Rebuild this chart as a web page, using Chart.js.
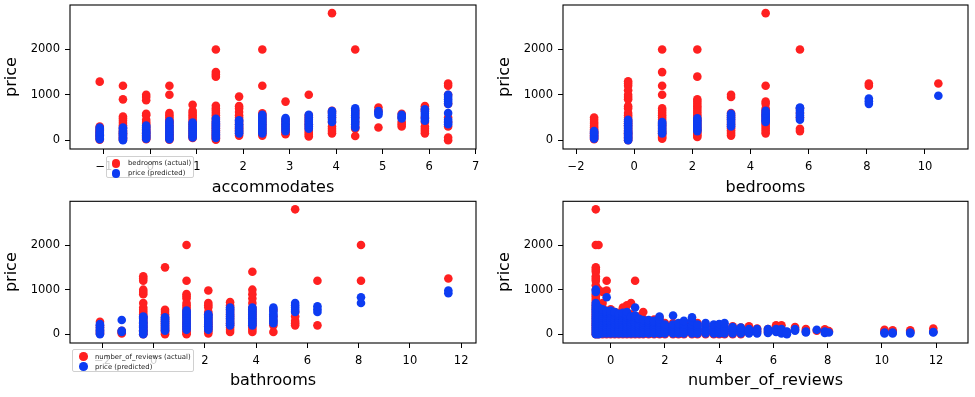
<!DOCTYPE html>
<html>
<head>
<meta charset="utf-8">
<script src="https://cdn.jsdelivr.net/npm/chart.js@4.4.1/dist/chart.umd.min.js"></script>
<style>
body { margin: 0; background: #fff; width: 975px; height: 397px; overflow: hidden; font-family: "DejaVu Sans", sans-serif; }
.panel { position: absolute; }
.panel canvas { display: block; }
.legend { position: absolute; background: rgba(255,255,255,0.8); border: 1px solid #d0d0d0; border-radius: 2px; box-sizing: border-box; }
.legend .dot { position: absolute; width: 8.6px; height: 8.6px; border-radius: 50%; }
.legend .lbl { position: absolute; font-size: 6.9px; line-height: 10px; color: #222; white-space: nowrap; }
</style>
</head>
<body>
<div class="panel" style="left:0;top:0"><canvas id="accChart" width="487" height="197"></canvas></div>
<div class="panel" style="left:487px;top:0"><canvas id="bedChart" width="488" height="197"></canvas></div>
<div class="panel" style="left:0;top:197px"><canvas id="bathChart" width="487" height="200"></canvas></div>
<div class="panel" style="left:487px;top:197px"><canvas id="revChart" width="488" height="200"></canvas></div>

<div class="legend" style="left:106px;top:156px;width:88px;height:22px">
  <div class="dot" style="left:4.7px;top:2px;background:#ff2020"></div>
  <div class="lbl" style="left:21px;top:1.3px">bedrooms (actual)</div>
  <div class="dot" style="left:4.7px;top:12px;background:#0d3cf2"></div>
  <div class="lbl" style="left:21px;top:11.3px">price (predicted)</div>
</div>
<div class="legend" style="left:72px;top:349px;width:122px;height:23px">
  <div class="dot" style="left:6px;top:2.4px;background:#ff2020"></div>
  <div class="lbl" style="left:22px;top:1.7px">number_of_reviews (actual)</div>
  <div class="dot" style="left:6px;top:12.4px;background:#0d3cf2"></div>
  <div class="lbl" style="left:22px;top:11.7px">price (predicted)</div>
</div>

<script>
const RED = '#ff2020';
const BLUE = '#0d3cf2';
const yTicks = [0, 1000, 2000];

// accommodates (standardised) columns
const accX = [-1.09, -0.59, -0.09, 0.41, 0.91, 1.41, 1.91, 2.41, 2.91, 3.41, 3.91, 4.41, 4.91, 5.41, 5.91, 6.41];
const accActual = [
  [10, 40, 70, 100, 130, 160, 190, 220, 260, 300, 1290],
  [10, 30, 60, 90, 120, 150, 180, 210, 250, 290, 330, 380, 430, 480, 520, 900, 1200],
  [20, 50, 80, 110, 140, 170, 200, 240, 280, 320, 360, 400, 450, 550, 580, 880, 950, 1000],
  [10, 40, 70, 100, 130, 170, 210, 250, 290, 330, 370, 410, 450, 500, 550, 600, 1000, 1200],
  [50, 80, 110, 150, 190, 230, 270, 310, 350, 400, 450, 500, 550, 600, 650, 780],
  [10, 40, 70, 100, 140, 180, 220, 260, 300, 350, 400, 450, 500, 550, 600, 650, 700, 760, 1400, 1450, 1500, 2000],
  [100, 140, 180, 220, 260, 300, 350, 400, 450, 500, 550, 620, 700, 750, 960],
  [100, 140, 180, 220, 260, 300, 350, 400, 450, 500, 550, 590, 1200, 2000],
  [130, 170, 210, 250, 300, 350, 400, 450, 850],
  [80, 120, 160, 200, 250, 300, 350, 400, 450, 500, 550, 1000],
  [150, 200, 250, 300, 400, 500, 600, 650, 2800],
  [90, 250, 300, 400, 500, 580, 650, 2000],
  [280, 650, 720],
  [300, 350, 400, 500, 580],
  [150, 200, 250, 300, 400, 500, 650, 700, 750],
  [0, 60, 300, 400, 500, 800, 1000, 1200, 1250]
];
const accPred = [
  [20, 50, 80, 110, 140, 170, 200, 240, 280],
  [0, 30, 60, 90, 120, 150, 180, 210, 250, 280],
  [30, 60, 90, 120, 150, 180, 210, 250, 290, 320],
  [20, 50, 90, 130, 170, 210, 250, 290, 330, 380, 420],
  [60, 100, 140, 180, 220, 260, 300, 350, 390],
  [50, 90, 130, 170, 210, 250, 290, 330, 370, 410, 470],
  [150, 190, 230, 270, 310, 350, 400, 440],
  [150, 190, 230, 270, 310, 350, 390, 430, 470, 510, 560],
  [200, 250, 300, 350, 400, 450, 490],
  [250, 300, 350, 400, 450, 500, 560],
  [400, 450, 500, 550, 600, 640],
  [280, 350, 400, 450, 500, 550, 600, 650, 700],
  [560, 600, 640],
  [480, 520, 560],
  [430, 480, 530, 580, 630, 680],
  [350, 400, 450, 600, 800, 850, 900, 950, 1000]
];

// bedrooms columns
const bedX = [-1.38, -0.21, 0.96, 2.17, 3.33, 4.52, 5.70, 8.07, 10.46];
const bedActual = [
  [20, 50, 80, 110, 140, 170, 200, 240, 280, 320, 360, 400, 450, 500],
  [0, 30, 60, 90, 120, 150, 180, 210, 250, 290, 330, 370, 410, 450, 500, 550, 600, 700, 750, 900, 950, 1000, 1100, 1200, 1250, 1300],
  [30, 60, 90, 120, 150, 190, 230, 270, 310, 350, 400, 450, 500, 550, 600, 650, 700, 1000, 1200, 1500, 2000],
  [70, 100, 140, 180, 220, 260, 300, 350, 400, 450, 500, 550, 600, 650, 700, 750, 800, 850, 900, 1400, 2000],
  [100, 140, 180, 220, 260, 300, 350, 400, 450, 500, 550, 600, 950, 1000],
  [150, 200, 250, 300, 350, 400, 450, 500, 550, 600, 650, 700, 800, 850, 1200, 2800],
  [200, 250, 500, 600, 700, 2000],
  [1200, 1250],
  [1250]
];
const bedPred = [
  [30, 60, 90, 120, 150, 180, 200],
  [0, 30, 60, 90, 120, 150, 180, 210, 250, 290, 330, 370, 410, 450],
  [150, 180, 210, 250, 290, 330, 370, 400],
  [200, 240, 280, 320, 360, 400, 440, 480],
  [300, 340, 380, 420, 460, 500, 540, 580],
  [400, 440, 480, 520, 560, 600, 650],
  [450, 500, 550, 600, 650, 700, 720],
  [800, 860, 920],
  [980]
];

// bathrooms columns
const bathX = [-2.1, -1.25, -0.41, 0.44, 1.28, 2.13, 2.98, 3.85, 4.67, 5.52, 6.39, 8.09, 11.5];
const bathActual = [
  [20, 50, 100, 150, 200, 280],
  [20, 50, 80],
  [0, 30, 60, 90, 120, 160, 200, 240, 280, 320, 360, 400, 450, 500, 550, 600, 700, 900, 950, 1000, 1200, 1250, 1300],
  [0, 30, 60, 90, 130, 170, 210, 250, 290, 330, 370, 410, 450, 500, 550, 1500],
  [0, 30, 60, 100, 140, 180, 220, 260, 300, 350, 400, 450, 500, 550, 600, 650, 700, 800, 850, 900, 1200, 2000],
  [20, 60, 100, 140, 180, 220, 260, 300, 350, 400, 450, 500, 600, 650, 700, 980],
  [50, 100, 150, 200, 250, 300, 350, 400, 450, 500, 550, 600, 650, 720],
  [50, 100, 150, 200, 250, 300, 350, 400, 450, 500, 550, 600, 700, 800, 900, 1000, 1400],
  [50, 200, 300, 400, 550],
  [200, 250, 300, 400, 500, 2800],
  [200, 1200],
  [1200, 2000],
  [1250]
];
const bathPred = [
  [0, 30, 60, 90, 120, 160, 200, 230],
  [50, 80, 320],
  [0, 30, 60, 90, 120, 150, 180, 210, 240, 270, 300, 340, 380, 400],
  [80, 110, 140, 170, 200, 230, 260, 290, 320, 350, 380],
  [100, 140, 180, 220, 260, 300, 340, 380, 420, 460, 500, 530],
  [100, 140, 180, 220, 260, 300, 340, 380, 420, 450],
  [200, 240, 280, 320, 360, 400, 440, 480, 520, 560, 600],
  [200, 240, 280, 320, 360, 400, 440, 480, 520, 560, 600],
  [250, 300, 350, 400, 450, 500, 550, 600],
  [500, 550, 600, 650, 700],
  [500, 560, 630],
  [700, 830],
  [920, 980]
];

// number_of_reviews columns
const revX = [-0.55, -0.45, -0.3, -0.15, 0, 0.15, 0.3, 0.45, 0.6, 0.75, 0.9, 1.05, 1.2, 1.4, 1.6, 1.8, 2.0, 2.3, 2.5, 2.7, 3.0, 3.2, 3.5, 3.8, 4.0, 4.2, 4.5, 4.8, 5.1, 5.4, 5.8, 6.1, 6.3, 6.5, 6.8, 7.2, 7.6, 7.9, 8.05, 10.1, 10.4, 11.05, 11.9];
const revActual = [
  [0, 50, 100, 150, 200, 250, 300, 350, 400, 450, 500, 550, 600, 650, 700, 750, 800, 850, 900, 1000, 1100, 1200, 1250, 1300, 1400, 1450, 1500, 2000, 2800],
  [0, 100, 200, 300, 400, 500, 600, 1000, 2000],
  [0, 100, 200, 300, 400, 500, 600, 700, 950],
  [0, 100, 200, 300, 400, 500, 980, 1200],
  [0, 100, 200, 300, 400, 500, 560],
  [0, 100, 200, 300, 400, 500],
  [0, 100, 200, 300, 400, 480],
  [0, 100, 200, 300, 400, 500, 600],
  [0, 100, 200, 300, 400, 500, 650],
  [0, 100, 200, 300, 450, 700],
  [0, 100, 200, 300, 400, 1200],
  [0, 100, 200, 300, 400],
  [0, 100, 200, 350, 500],
  [0, 100, 200, 300],
  [0, 100, 200, 330],
  [0, 100, 200, 380],
  [0, 100, 200, 250],
  [0, 100, 200, 250],
  [0, 100, 200],
  [0, 100, 200, 280],
  [0, 100, 200, 250],
  [0, 100, 250],
  [0, 100, 200],
  [0, 100, 180],
  [0, 100, 200],
  [0, 100, 150],
  [0, 100, 180],
  [0, 100, 150],
  [50, 100, 180],
  [50, 100, 130],
  [50, 120],
  [100, 200],
  [100, 200],
  [50],
  [100, 160],
  [80, 120],
  [80],
  [60, 110],
  [70],
  [60, 100],
  [60, 90],
  [60, 90],
  [60, 130]
];
const revPred = [
  [0, 40, 80, 120, 160, 200, 240, 280, 320, 360, 400, 440, 480, 520, 560, 600, 650, 700, 950, 1000],
  [0, 50, 100, 150, 200, 250, 300, 350, 400, 450, 500, 550, 600],
  [20, 70, 120, 170, 220, 270, 320, 370, 420, 470, 520, 560],
  [20, 70, 120, 170, 220, 270, 320, 370, 420, 470, 520, 830],
  [20, 70, 120, 170, 220, 270, 320, 370, 420, 470, 530],
  [20, 70, 120, 170, 220, 270, 320, 370, 420, 470, 500],
  [20, 70, 120, 170, 220, 270, 320, 370, 420, 460],
  [20, 70, 120, 170, 220, 270, 320, 370, 420, 480],
  [20, 70, 120, 170, 220, 270, 320, 370, 420, 500],
  [20, 70, 120, 170, 220, 270, 320, 360, 400],
  [20, 70, 120, 170, 220, 270, 320, 370, 420, 600],
  [20, 70, 120, 170, 220, 270, 320, 350],
  [20, 70, 120, 170, 220, 270, 320],
  [20, 70, 120, 170, 220, 270, 320],
  [20, 70, 120, 170, 220, 270, 300],
  [20, 70, 120, 170, 220, 270, 330, 400],
  [20, 70, 120, 170, 220],
  [20, 70, 120, 170, 220, 420],
  [20, 70, 120, 170, 220, 250],
  [20, 70, 120, 170, 220, 300],
  [20, 70, 120, 170, 220, 300, 380],
  [20, 70, 120, 170, 220],
  [20, 70, 120, 170, 250],
  [20, 70, 120, 170, 220],
  [20, 70, 120, 170, 230],
  [20, 70, 120, 170, 250],
  [20, 70, 120, 160],
  [20, 70, 120, 150],
  [20, 70, 120],
  [20, 70, 120],
  [30, 80, 120],
  [50, 120],
  [20, 120],
  [0, 60],
  [80, 120],
  [40, 60],
  [100],
  [30, 60],
  [40],
  [20, 40],
  [20, 40],
  [20, 40],
  [40, 50]
];

function toPoints(xs, cols) {
  const pts = [];
  xs.forEach((x, i) => cols[i].forEach(y => pts.push({x: x, y: y})));
  return pts;
}

// draws the four spines like matplotlib
const frame = {
  id: 'frame',
  afterDatasetsDraw(chart) {
    const a = chart.chartArea, ctx = chart.ctx;
    ctx.save();
    ctx.strokeStyle = '#000';
    ctx.lineWidth = 1.1;
    ctx.strokeRect(a.left, a.top, a.right - a.left, a.bottom - a.top);
    ctx.restore();
  }
};

const fmt = v => v < 0 ? '\u2212' + Math.abs(v) : String(v);
const tickFont = {family: 'DejaVu Sans', size: 11.5};
const titleFont = {family: 'DejaVu Sans', size: 16};

function makePanel(id, xs, actual, pred, o) {
  return new Chart(document.getElementById(id), {
    type: 'scatter',
    data: {
      datasets: [
        {label: 'actual', data: toPoints(xs, actual), backgroundColor: RED, pointRadius: 4.3, pointHoverRadius: 4.3, borderWidth: 0, order: 1},
        {label: 'predicted', data: toPoints(xs, pred), backgroundColor: BLUE, pointRadius: 4.3, pointHoverRadius: 4.3, borderWidth: 0, order: 0}
      ]
    },
    options: {
      responsive: false,
      animation: false,
      layout: {padding: {top: o.padTop, right: o.padRight, left: 0, bottom: 0}},
      plugins: {legend: {display: false}, tooltip: {enabled: false}},
      scales: {
        x: {
          type: 'linear', min: o.xMin, max: o.xMax,
          afterBuildTicks: s => { s.ticks = o.xTicks.map(v => ({value: v})); },
          afterFit: s => { s.height = o.xh; s.paddingLeft = 0; s.paddingRight = 0; },
          ticks: {font: tickFont, color: '#000', padding: 6, callback: fmt, maxRotation: 0, autoSkip: false},
          grid: {drawOnChartArea: false, drawTicks: true, tickLength: 5, color: '#000', lineWidth: 1},
          border: {display: false},
          title: {display: true, text: o.xLabel, font: titleFont, color: '#000', padding: {top: 0, bottom: o.xTitlePad}}
        },
        y: {
          type: 'linear', min: -195, max: 2980,
          afterBuildTicks: s => { s.ticks = yTicks.map(v => ({value: v})); },
          afterFit: s => { s.width = o.yw; s.paddingTop = 0; s.paddingBottom = 0; },
          ticks: {font: tickFont, color: '#000', padding: 5, callback: fmt},
          grid: {drawOnChartArea: false, drawTicks: true, tickLength: 5, color: '#000', lineWidth: 1},
          border: {display: false},
          title: {display: true, text: 'price', font: titleFont, color: '#000', padding: {top: o.yTitlePad, bottom: 0}}
        }
      }
    },
    plugins: [frame]
  });
}

makePanel('accChart', accX, accActual, accPred, {
  xMin: -1.73, xMax: 7.01, xTicks: [-1, 0, 1, 2, 3, 4, 5, 6, 7], xLabel: 'accommodates',
  padTop: 5, padRight: 11, xh: 48, yw: 70, xTitlePad: 0, yTitlePad: 2
});
makePanel('bedChart', bedX, bedActual, bedPred, {
  xMin: -2.45, xMax: 11.48, xTicks: [-2, 0, 2, 4, 6, 8, 10], xLabel: 'bedrooms',
  padTop: 5, padRight: 7, xh: 48, yw: 76, xTitlePad: 0, yTitlePad: 8
});
makePanel('bathChart', bathX, bathActual, bathPred, {
  xMin: -3.27, xMax: 12.58, xTicks: [-2, 0, 2, 4, 6, 8, 10, 12], xLabel: 'bathrooms',
  padTop: 2, padRight: 11, xh: 54, yw: 70, xTitlePad: 7, yTitlePad: 2
});
makePanel('revChart', revX, revActual, revPred, {
  xMin: -1.76, xMax: 13.18, xTicks: [0, 2, 4, 6, 8, 10, 12], xLabel: 'number_of_reviews',
  padTop: 2, padRight: 7, xh: 54, yw: 76, xTitlePad: 7, yTitlePad: 8
});
</script>
</body>
</html>
